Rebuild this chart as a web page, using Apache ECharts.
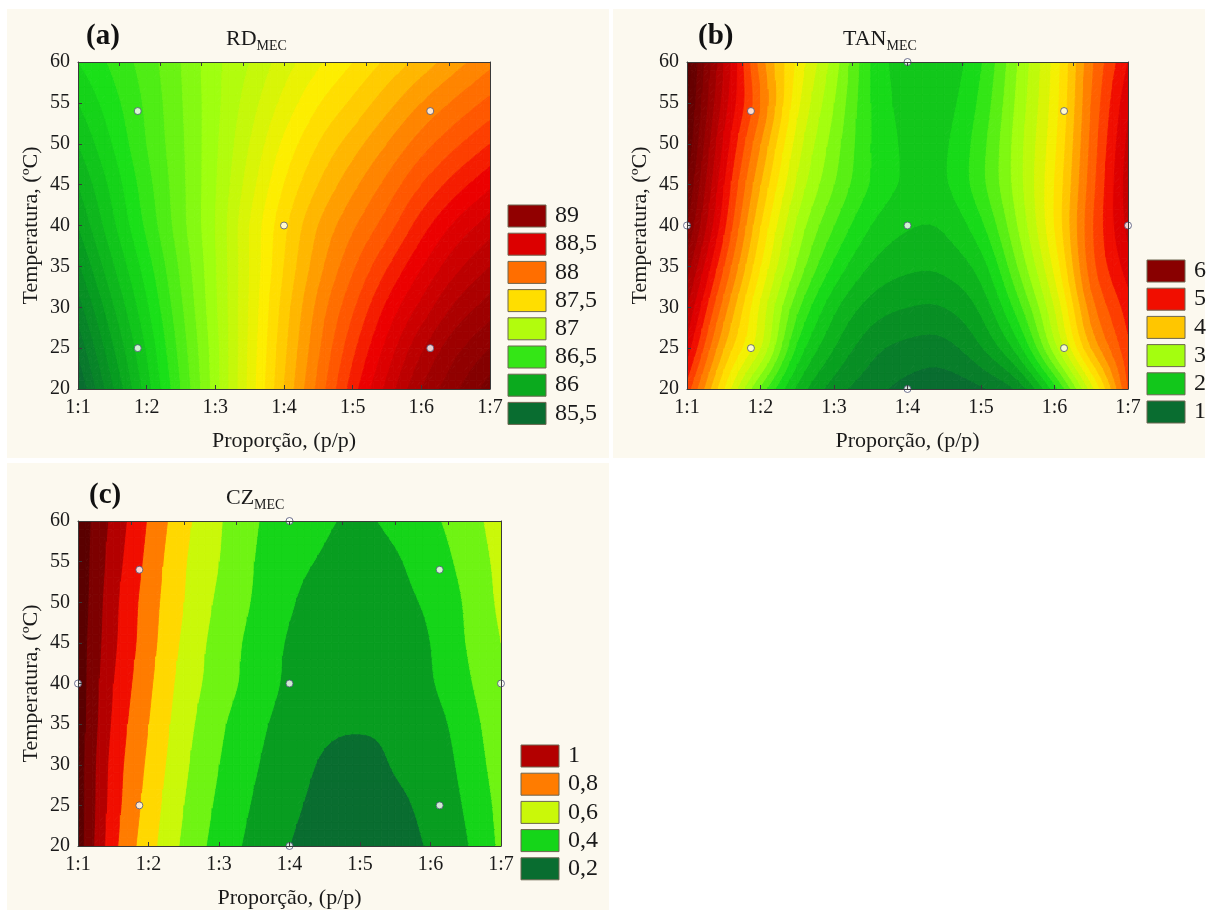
<!DOCTYPE html>
<html>
<head>
<meta charset="utf-8">
<script src="https://cdn.jsdelivr.net/npm/echarts@6/dist/echarts.min.js"></script>
<style>
  html, body { margin: 0; padding: 0; background: #ffffff; }
  #chart { width: 1208px; height: 910px; }
</style>
</head>
<body>
<div id="chart"></div>
<script>
// ---- grid axes of the fitted response surfaces ----
const proportionSteps = [1, 1.5, 2, 2.5, 3, 3.5, 4, 4.5, 5, 5.5, 6, 6.5, 7];
const temperatureSteps = [20, 25, 30, 35, 40, 45, 50, 55, 60];
const proportionLabels = ['1:1', '1:2', '1:3', '1:4', '1:5', '1:6', '1:7'];

// ---- surface values: one row per temperature (20 -> 60 ºC), one column per proportion step ----
const rdMec = [
  [85.50, 85.88, 86.25, 86.60, 86.95, 87.33, 87.70, 88.03, 88.35, 88.63, 88.90, 89.08, 89.25],
  [85.62, 85.98, 86.31, 86.64, 86.96, 87.32, 87.67, 87.98, 88.27, 88.53, 88.78, 88.97, 89.10],
  [85.75, 86.08, 86.38, 86.68, 86.98, 87.31, 87.64, 87.93, 88.18, 88.42, 88.63, 88.82, 88.95],
  [85.88, 86.18, 86.45, 86.72, 86.99, 87.30, 87.60, 87.86, 88.08, 88.29, 88.49, 88.67, 88.80],
  [86.00, 86.27, 86.52, 86.76, 87.00, 87.30, 87.57, 87.80, 87.98, 88.15, 88.35, 88.52, 88.65],
  [86.10, 86.33, 86.56, 86.77, 86.99, 87.25, 87.50, 87.70, 87.87, 88.03, 88.20, 88.35, 88.48],
  [86.20, 86.40, 86.60, 86.78, 86.98, 87.20, 87.42, 87.60, 87.75, 87.90, 88.05, 88.18, 88.30],
  [86.30, 86.46, 86.62, 86.79, 86.97, 87.15, 87.33, 87.49, 87.62, 87.76, 87.90, 88.02, 88.13],
  [86.40, 86.52, 86.65, 86.80, 86.97, 87.10, 87.25, 87.38, 87.50, 87.62, 87.74, 87.86, 87.97]
];
const tanMec = [
  [4.90, 3.80, 2.75, 1.95, 1.50, 1.28, 1.13, 1.07, 1.17, 1.45, 2.30, 3.50, 4.80],
  [5.30, 4.20, 3.40, 2.35, 1.80, 1.47, 1.34, 1.33, 1.58, 2.10, 3.10, 4.20, 4.95],
  [5.60, 4.50, 3.55, 2.65, 2.05, 1.72, 1.60, 1.60, 1.85, 2.50, 3.40, 4.50, 5.10],
  [5.90, 4.80, 3.80, 2.95, 2.35, 1.98, 1.84, 1.85, 2.10, 2.80, 3.65, 4.70, 5.30],
  [6.20, 5.05, 4.00, 3.15, 2.60, 2.20, 2.02, 2.03, 2.35, 3.00, 3.80, 4.75, 5.45],
  [6.40, 5.20, 4.20, 3.35, 2.80, 2.38, 2.16, 2.17, 2.53, 3.10, 3.80, 4.70, 5.50],
  [6.55, 5.35, 4.40, 3.50, 2.90, 2.40, 2.16, 2.17, 2.52, 3.10, 3.75, 4.65, 5.45],
  [6.65, 5.50, 4.60, 3.65, 3.00, 2.40, 2.12, 2.12, 2.45, 3.05, 3.70, 4.60, 5.35],
  [6.70, 5.60, 4.50, 3.75, 3.10, 2.40, 2.07, 2.06, 2.38, 3.00, 3.67, 4.55, 5.20]
];
const czMec = [
  [1.25, 0.93, 0.74, 0.58, 0.46, 0.37, 0.30, 0.260, 0.250, 0.270, 0.310, 0.39, 0.52],
  [1.25, 0.95, 0.76, 0.60, 0.48, 0.39, 0.32, 0.275, 0.265, 0.285, 0.325, 0.41, 0.53],
  [1.25, 0.96, 0.78, 0.62, 0.50, 0.41, 0.34, 0.290, 0.280, 0.305, 0.340, 0.43, 0.55],
  [1.26, 0.98, 0.80, 0.64, 0.52, 0.43, 0.36, 0.315, 0.305, 0.315, 0.360, 0.45, 0.57],
  [1.26, 1.00, 0.82, 0.66, 0.55, 0.46, 0.38, 0.330, 0.310, 0.330, 0.390, 0.48, 0.59],
  [1.26, 1.02, 0.84, 0.68, 0.56, 0.47, 0.39, 0.350, 0.320, 0.340, 0.400, 0.50, 0.60],
  [1.27, 1.03, 0.85, 0.70, 0.58, 0.49, 0.41, 0.360, 0.340, 0.370, 0.420, 0.51, 0.62],
  [1.27, 1.05, 0.87, 0.71, 0.60, 0.50, 0.43, 0.390, 0.370, 0.390, 0.450, 0.53, 0.63],
  [1.27, 1.07, 0.89, 0.73, 0.61, 0.51, 0.45, 0.410, 0.390, 0.420, 0.480, 0.55, 0.65]
];

// ---- experimental design points [proportion, temperature] ----
const designPointsRd = [[1.87, 54], [1.87, 25], [4, 40], [6.13, 54], [6.13, 25]];
const designPointsFull = [[1.87, 54], [1.87, 25], [4, 40], [6.13, 54], [6.13, 25], [1, 40], [7, 40], [4, 60], [4, 20]];

// ---- legend levels ----
const rdLevels = [89, 88.5, 88, 87.5, 87, 86.5, 86, 85.5];
const tanLevels = [6, 5, 4, 3, 2, 1];
const czLevels = [1, 0.8, 0.6, 0.4, 0.2];

// ---- shared green -> yellow -> red palette ----
const paletteStops = [
  [0.000, '#0a5f35'], [0.125, '#079a20'], [0.250, '#18e018'], [0.375, '#a0ff10'],
  [0.500, '#ffee00'], [0.5625, '#ffc000'], [0.625, '#ff8000'], [0.6875, '#ff4800'],
  [0.740, '#ee0000'], [0.860, '#a00000'], [1.000, '#5a0000']
];
function hexRgb(h) { return [parseInt(h.slice(1, 3), 16), parseInt(h.slice(3, 5), 16), parseInt(h.slice(5, 7), 16)]; }
function paletteAt(t) {
  t = Math.max(0, Math.min(1, t));
  for (let k = 1; k < paletteStops.length; k++) {
    if (t <= paletteStops[k][0]) {
      const [t0, c0] = paletteStops[k - 1], [t1, c1] = paletteStops[k];
      const f = (t - t0) / (t1 - t0), a = hexRgb(c0), b = hexRgb(c1);
      return 'rgb(' + a.map((v, i) => Math.round(v + (b[i] - v) * f)).join(',') + ')';
    }
  }
  return paletteStops[paletteStops.length - 1][1];
}

const FONT = 'Liberation Serif';
const INK = '#1a1a1a';

const panels = [
  { surface: rdMec, levels: rdLevels, points: designPointsRd, base: 85.5, step: 0.1, t0: 0.03, tk: 0.246,
    grid: { left: 78, top: 62, width: 412, height: 327 }, topDivisions: 10,
    bg: [7, 9, 602, 449], legendX: 508, legendTop: 205,
    tag: '(a)', tagPos: [86, 22], name: 'RD', sub: 'MEC', namePos: [226, 28] },
  { surface: tanMec, levels: tanLevels, points: designPointsFull, base: 1, step: 0.2, t0: 0.03, tk: 0.175,
    grid: { left: 687, top: 62, width: 441, height: 327 }, topDivisions: 8,
    bg: [613, 9, 592, 449], legendX: 1147, legendTop: 260,
    tag: '(b)', tagPos: [698, 22], name: 'TAN', sub: 'MEC', namePos: [843, 28] },
  { surface: czMec, levels: czLevels, points: designPointsFull, base: 0.2, step: 0.1, t0: 0.03, tk: 1.0,
    grid: { left: 78, top: 521, width: 423, height: 326 }, topDivisions: 8,
    bg: [7, 463, 602, 447], legendX: 521, legendTop: 745,
    tag: '(c)', tagPos: [89, 481], name: 'CZ', sub: 'MEC', namePos: [226, 487] }
];

function levelColor(panel, v) { return paletteAt(panel.t0 + (v - panel.base) * panel.tk); }

// ---- smooth evaluation of a grid between its nodes (Catmull-Rom) ----
function nodeValue(g, r, c) {
  const nr = g.length, nc = g[0].length;
  if (r < 0) return 2 * nodeValue(g, 0, c) - nodeValue(g, 1, c);
  if (r >= nr) return 2 * nodeValue(g, nr - 1, c) - nodeValue(g, nr - 2, c);
  if (c < 0) return 2 * g[r][0] - g[r][1];
  if (c >= nc) return 2 * g[r][nc - 1] - g[r][nc - 2];
  return g[r][c];
}
function catmull(p0, p1, p2, p3, t) {
  return 0.5 * (2 * p1 + (-p0 + p2) * t + (2 * p0 - 5 * p1 + 4 * p2 - p3) * t * t + (-p0 + 3 * p1 - 3 * p2 + p3) * t * t * t);
}
function surfaceAt(g, col, row) {
  const c = Math.min(Math.floor(col), g[0].length - 2), r = Math.min(Math.floor(row), g.length - 2);
  const tc = col - c, tr = row - r, rows = [];
  for (let k = -1; k <= 2; k++) {
    rows.push(catmull(nodeValue(g, r + k, c - 1), nodeValue(g, r + k, c), nodeValue(g, r + k, c + 1), nodeValue(g, r + k, c + 2), tc));
  }
  return catmull(rows[0], rows[1], rows[2], rows[3], tr);
}

// ---- polygon clipping against a level (values are linear along edges) ----
function clipLevel(poly, level, keepAbove) {
  const out = [];
  for (let k = 0; k < poly.length; k++) {
    const a = poly[k], b = poly[(k + 1) % poly.length];
    const ain = keepAbove ? a.v >= level : a.v <= level;
    const bin = keepAbove ? b.v >= level : b.v <= level;
    if (ain) out.push(a);
    if (ain !== bin) {
      const t = (level - a.v) / (b.v - a.v);
      out.push({ x: a.x + (b.x - a.x) * t, y: a.y + (b.y - a.y) * t, v: level });
    }
  }
  return out;
}
function bandIndex(panel, v) { return Math.floor((v - panel.base) / panel.step + 1e-9); }
function pushPoly(children, poly, color) {
  children.push({ type: 'polygon', silent: true,
    shape: { points: poly.map(p => [p.x, p.y]) },
    style: { fill: color, stroke: color, lineWidth: 0.9, lineJoin: 'round' } });
}
function addBands(panel, poly, children) {
  let lo = Infinity, hi = -Infinity;
  poly.forEach(p => { lo = Math.min(lo, p.v); hi = Math.max(hi, p.v); });
  const k0 = bandIndex(panel, lo), k1 = bandIndex(panel, hi);
  for (let k = k0; k <= k1; k++) {
    const lv = panel.base + k * panel.step;
    let piece = poly;
    if (k > k0) piece = clipLevel(piece, lv, true);
    if (k < k1) piece = clipLevel(piece, lv + panel.step, false);
    if (piece.length >= 3) pushPoly(children, piece, levelColor(panel, lv));
  }
}

// Each data item is one grid cell (its lower-left node); the cell is refined and filled band by band.
function makeRenderer(panel) {
  const g = panel.surface, n = 5;
  return function (params, api) {
    const x0 = api.value(0), y0 = api.value(1);
    const ci = proportionSteps.indexOf(x0), rj = temperatureSteps.indexOf(y0);
    const pA = api.coord([x0, y0]);
    const pB = api.coord([proportionSteps[ci + 1], temperatureSteps[rj + 1]]);
    const nodes = [];
    for (let b = 0; b <= n; b++) {
      const row = [];
      for (let a = 0; a <= n; a++) {
        row.push({ x: pA[0] + (pB[0] - pA[0]) * a / n, y: pA[1] + (pB[1] - pA[1]) * b / n,
                   v: surfaceAt(g, ci + a / n, rj + b / n) });
      }
      nodes.push(row);
    }
    const children = [];
    for (let b = 0; b < n; b++) {
      for (let a = 0; a < n; a++) {
        const q = [nodes[b][a], nodes[b][a + 1], nodes[b + 1][a + 1], nodes[b + 1][a]];
        const ks = q.map(p => bandIndex(panel, p.v));
        if (ks.every(k => k === ks[0])) {
          pushPoly(children, q, levelColor(panel, panel.base + ks[0] * panel.step));
        } else {
          addBands(panel, [q[0], q[1], q[2]], children);
          addBands(panel, [q[0], q[2], q[3]], children);
        }
      }
    }
    return { type: 'group', children: children };
  };
}

const fmt = v => String(v).replace('.', ',');

const grids = [], xAxes = [], yAxes = [], series = [], titles = [], graphics = [];
const axisLineStyle = { color: '#3a3a3a', width: 1 };

panels.forEach((panel, p) => {
  graphics.push({ type: 'rect', z: -10, silent: true,
    shape: { x: panel.bg[0], y: panel.bg[1], width: panel.bg[2], height: panel.bg[3] },
    style: { fill: '#fcf9ef' } });

  grids.push(Object.assign({ containLabel: false }, panel.grid));

  xAxes.push({
    gridIndex: p, type: 'value', min: 1, max: 7, interval: 1, position: 'bottom', z: 10,
    axisLine: { show: true, onZero: false, lineStyle: axisLineStyle },
    axisTick: { show: true, inside: true, length: 4, lineStyle: axisLineStyle },
    axisLabel: { margin: 9, fontSize: 20, fontFamily: FONT, color: INK,
                 formatter: v => proportionLabels[Math.round(v) - 1] },
    splitLine: { show: false },
    name: 'Proporção, (p/p)', nameLocation: 'middle', nameGap: 41,
    nameTextStyle: { fontSize: 22, fontFamily: FONT, color: INK }
  });
  xAxes.push({
    gridIndex: p, type: 'value', min: 0, max: panel.topDivisions, interval: 1, position: 'top', z: 10,
    axisLine: { show: true, onZero: false, lineStyle: axisLineStyle },
    axisTick: { show: true, inside: true, length: 4, lineStyle: axisLineStyle },
    axisLabel: { show: false }, splitLine: { show: false }
  });
  yAxes.push({
    gridIndex: p, type: 'value', min: 20, max: 60, interval: 5, position: 'left', z: 10,
    axisLine: { show: true, onZero: false, lineStyle: axisLineStyle },
    axisTick: { show: true, inside: true, length: 4, lineStyle: axisLineStyle },
    axisLabel: { margin: 8, fontSize: 20, fontFamily: FONT, color: INK },
    splitLine: { show: false },
    name: 'Temperatura, (ºC)', nameLocation: 'middle', nameGap: 36, nameRotate: 90,
    nameTextStyle: { fontSize: 22, fontFamily: FONT, color: INK }
  });
  yAxes.push({
    gridIndex: p, type: 'value', min: 20, max: 60, interval: 5, position: 'right', z: 10,
    axisLine: { show: true, onZero: false, lineStyle: axisLineStyle },
    axisTick: { show: false }, axisLabel: { show: false }, splitLine: { show: false }
  });

  const cells = [];
  for (let r = 0; r < temperatureSteps.length - 1; r++) {
    for (let c = 0; c < proportionSteps.length - 1; c++) {
      cells.push([proportionSteps[c], temperatureSteps[r], panel.surface[r][c]]);
    }
  }
  series.push({
    type: 'custom', xAxisIndex: p * 2, yAxisIndex: p * 2, clip: true, silent: true, z: 2,
    encode: { x: 0, y: 1 }, data: cells, renderItem: makeRenderer(panel)
  });
  series.push({
    type: 'scatter', xAxisIndex: p * 2, yAxisIndex: p * 2, silent: true, z: 5,
    data: panel.points, symbol: 'circle', symbolSize: 7,
    itemStyle: { color: '#ffffff', borderColor: '#4e5378', borderWidth: 1 }
  });

  titles.push({ text: panel.tag, left: panel.tagPos[0], top: panel.tagPos[1], padding: 0,
    textStyle: { fontFamily: FONT, fontSize: 29, fontWeight: 'bold', color: '#111' } });
  titles.push({ text: '{m|' + panel.name + '}{s|' + panel.sub + '}', left: panel.namePos[0], top: panel.namePos[1], padding: 0,
    textStyle: { fontWeight: 'normal', fontFamily: FONT, color: INK, rich: {
      m: { fontFamily: FONT, fontWeight: 'normal', fontSize: 22, lineHeight: 22, verticalAlign: 'top', color: INK },
      s: { fontFamily: FONT, fontWeight: 'normal', fontSize: 14, lineHeight: 36, color: INK } } } });

  panel.levels.forEach((lv, m) => {
    const top = panel.legendTop + m * 28.2;
    graphics.push({ type: 'rect', z: 20, silent: true,
      shape: { x: panel.legendX, y: top, width: 38, height: 22 },
      style: { fill: levelColor(panel, lv), stroke: '#6d6650', lineWidth: 1 } });
    graphics.push({ type: 'text', z: 20, silent: true, x: panel.legendX + 47, y: top + 11,
      style: { text: fmt(lv), font: '24px "Liberation Serif"', fill: INK, verticalAlign: 'middle', align: 'left' } });
  });
});

const chart = echarts.init(document.getElementById('chart'), null, { renderer: 'canvas', width: 1208, height: 910 });
chart.setOption({
  animation: false,
  backgroundColor: '#ffffff',
  textStyle: { fontFamily: FONT },
  title: titles,
  grid: grids,
  xAxis: xAxes,
  yAxis: yAxes,
  series: series,
  graphic: graphics
});
</script>
</body>
</html>
